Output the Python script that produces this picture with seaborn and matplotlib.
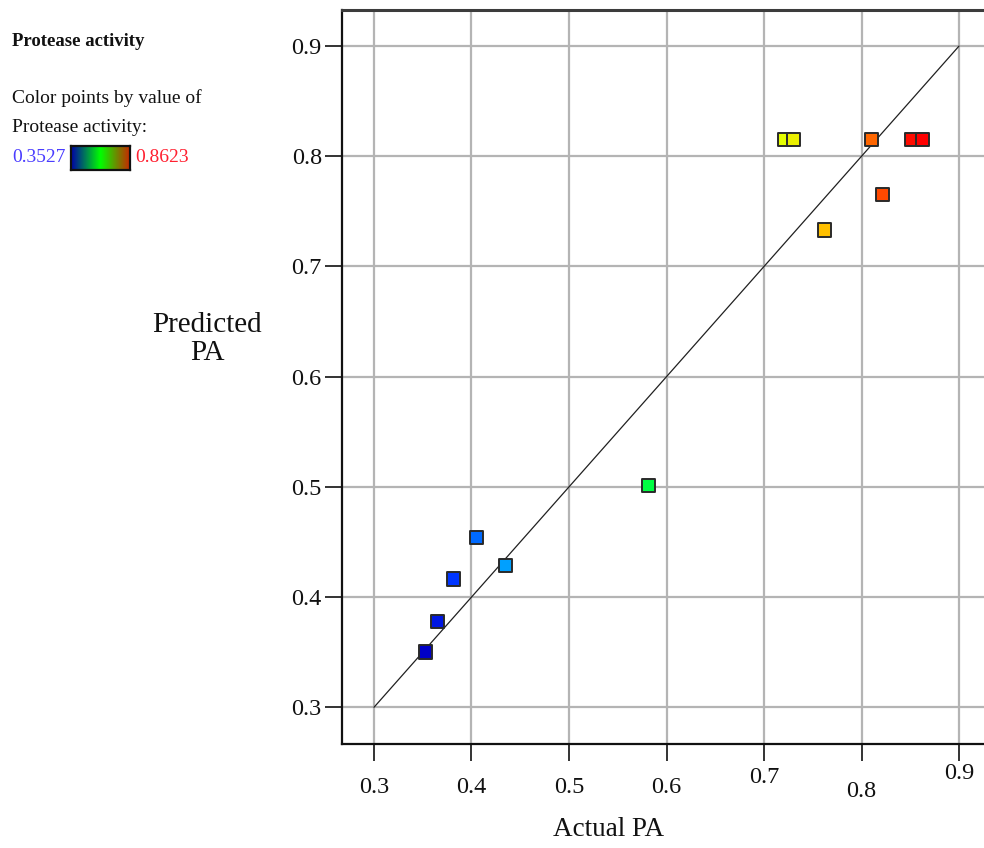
import numpy as np
import pandas as pd
import matplotlib
matplotlib.use("Agg")
import matplotlib.pyplot as plt
from matplotlib.colors import LinearSegmentedColormap, Normalize
from matplotlib.transforms import ScaledTranslation
import seaborn as sns

# Protease activity: actual vs model-predicted values
actual = [0.3527, 0.3653, 0.3818, 0.4052, 0.4350, 0.5816, 0.7208, 0.7306,
          0.7621, 0.8104, 0.8213, 0.8517, 0.8623]
predicted = [0.3502, 0.3776, 0.4164, 0.4538, 0.4290, 0.5013, 0.8154, 0.8154,
             0.7331, 0.8154, 0.7651, 0.8154, 0.8154]
tick_values = [0.3, 0.4, 0.5, 0.6, 0.7, 0.8, 0.9]
tick_labels = ["0.3", "0.4", "0.5", "0.6", "0.7", "0.8", "0.9"]
x_label_shift_px = [0, 0, 0, 0, 10, -4, 14]   # small vertical jitter of the x labels
vmin, vmax = 0.3527, 0.8623

df = pd.DataFrame({"Actual PA": actual, "Predicted PA": predicted})

sns.set_theme(style="white")
serif = ["Liberation Serif", "DejaVu Serif"]
plt.rcParams["font.family"] = serif

# point colour scale (blue -> cyan -> green -> yellow -> red)
point_cmap = LinearSegmentedColormap.from_list(
    "pa_points",
    [(0.00, "#0000c8"), (0.05, "#0030ff"), (0.10, "#0068ff"), (0.17, "#00a8ff"),
     (0.30, "#00e0e0"), (0.45, "#00ff40"), (0.60, "#90ff00"), (0.72, "#e4ff00"),
     (0.80, "#ffc400"), (0.90, "#ff6400"), (0.96, "#ff1800"), (1.00, "#ff0000")])
# legend strip scale
strip_cmap = LinearSegmentedColormap.from_list(
    "pa_strip", ["#0000a8", "#00ff00", "#c82800"])

fig = plt.figure(figsize=(9.84, 8.48), dpi=100)
ax = fig.add_axes([342 / 984, 1 - 744 / 848, 1 - 342 / 984, (744 - 10) / 848])

ax.set_xlim(0.2672, 0.9256)
ax.set_ylim(0.2667, 0.9327)

ax.grid(True, color="#b4b4b4", linewidth=1.6)
ax.set_axisbelow(True)

# 1:1 reference line
ax.plot([0.3, 0.9], [0.3, 0.9], color="#202020", linewidth=0.9, zorder=2)

sns.scatterplot(data=df, x="Actual PA", y="Predicted PA", hue="Actual PA",
                palette=point_cmap, hue_norm=Normalize(vmin, vmax), marker="s",
                s=90, edgecolor="#2a2a2a", linewidth=1.4, legend=False,
                ax=ax, zorder=3)

ax.set_xticks(tick_values)
ax.set_xticklabels(tick_labels)
ax.set_yticks(tick_values)
ax.set_yticklabels(tick_labels)
ax.set_xlabel("")
ax.set_ylabel("")
ax.tick_params(axis="both", which="major", direction="out", length=12.5,
               width=1.2, color="#111111", labelsize=17.5, labelcolor="#111111",
               bottom=True, left=True)
ax.tick_params(axis="x", pad=11)
ax.tick_params(axis="y", pad=2)

for lbl, dy in zip(ax.get_xticklabels(), x_label_shift_px):
    lbl.set_transform(lbl.get_transform() +
                      ScaledTranslation(0, dy / 100, fig.dpi_scale_trans))

for side in ["left", "bottom"]:
    ax.spines[side].set_color("#111111")
    ax.spines[side].set_linewidth(1.6)
ax.spines["top"].set_color("#3c3c3c")
ax.spines["top"].set_linewidth(2.2)
ax.spines["right"].set_visible(False)

# axis titles
fig.text(207 / 984, 1 - 339 / 848, "Predicted\nPA", ha="center", va="center",
         fontsize=21, color="#111111", linespacing=1.15)
fig.text(609 / 984, 1 - 829 / 848, "Actual PA", ha="center", va="center",
         fontsize=19.5, color="#111111")

# colour key
fig.text(12 / 984, 1 - 42 / 848, "Protease activity", ha="left", va="center",
         fontsize=13.5, fontweight="bold", color="#111111")
fig.text(12 / 984, 1 - 98 / 848, "Color points by value of", ha="left",
         va="center", fontsize=14, color="#111111")
fig.text(12 / 984, 1 - 127 / 848, "Protease activity:", ha="left", va="center",
         fontsize=14, color="#111111")
fig.text(12 / 984, 1 - 157 / 848, f"{vmin:.4f}", ha="left", va="center",
         fontsize=14, color="#4a3cff")
fig.text(135 / 984, 1 - 157 / 848, f"{vmax:.4f}", ha="left", va="center",
         fontsize=14, color="#ff2030")

cax = fig.add_axes([71 / 984, 1 - 170 / 848, 59 / 984, 24 / 848])
cax.imshow(np.linspace(0, 1, 256)[None, :], aspect="auto", cmap=strip_cmap)
cax.set_xticks([])
cax.set_yticks([])
for sp in cax.spines.values():
    sp.set_visible(True)
    sp.set_color("#111111")
    sp.set_linewidth(1.6)

fig.savefig("out.png", dpi=100, facecolor="white")
